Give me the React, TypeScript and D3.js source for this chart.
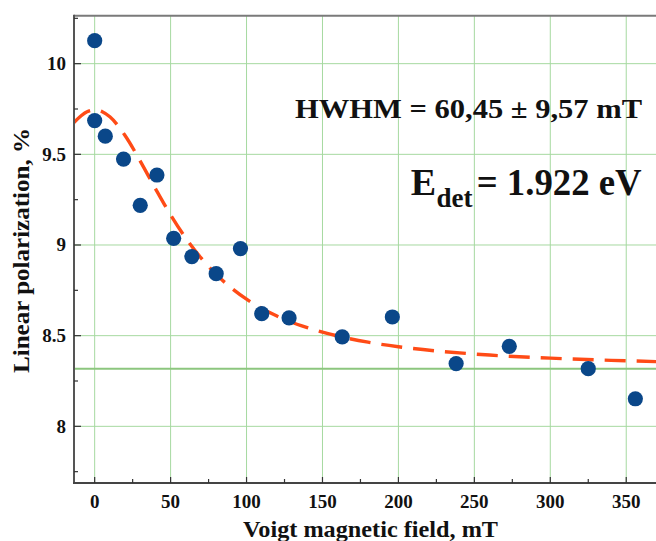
import React from "react";
import * as d3 from "d3";

// Measured data points (Voigt field, mT ; linear polarization, %)
const fieldValues = [0, 0, 7, 19, 30, 41, 52, 64, 80, 96, 110, 128, 163, 196, 238, 273, 325, 356];
const polarizationValues = [10.127, 9.686, 9.6, 9.474, 9.219, 9.386, 9.037, 8.936, 8.842, 8.98, 8.621, 8.598, 8.493, 8.603, 8.346, 8.441, 8.318, 8.152];

// Fit curve
const fitX = [-14, -5, 0, 5, 10, 20, 30, 40, 50, 60, 70, 80, 90, 100, 120, 140, 160, 180, 200, 230, 260, 300, 340, 370];
const fitY = [9.673, 9.735, 9.745, 9.735, 9.707, 9.604, 9.463, 9.311, 9.166, 9.038, 8.929, 8.838, 8.763, 8.701, 8.608, 8.544, 8.498, 8.464, 8.439, 8.412, 8.393, 8.376, 8.364, 8.357];

const asymptote = 8.318;

const xTicks = [0, 50, 100, 150, 200, 250, 300, 350];
const xMinorTicks = [25, 75, 125, 175, 225, 275, 325];
const yTicks = [8, 8.5, 9, 9.5, 10];
const yTickLabels = ["8", "8.5", "9", "9.5", "10"];
const yMinorTicks = [7.75, 8.25, 8.75, 9.25, 9.75, 10.25];

const xTitle = "Voigt magnetic field, mT";
const yTitle = "Linear polarization, %";
const hwhmText = "HWHM = 60,45 ± 9,57 mT";

const W = 656;
const H = 541;
const left = 74;
const right = 656;
const top = 15.7;
const bottom = 483;

const font = "'Liberation Serif', 'Times New Roman', serif";

export default function App() {
  const x = d3.scaleLinear().domain([-13.61, 369.6]).range([left, right]);
  const y = d3.scaleLinear().domain([7.6875, 10.2645]).range([bottom, top]);

  const line = d3
    .line<number>()
    .x((_, i) => x(fitX[i]))
    .y((d) => y(d))
    .curve(d3.curveMonotoneX);

  const gridColor = "#a6d9a0";

  return (
    <svg
      width={W}
      height={H}
      style={{ position: "absolute", left: 0, top: 0, background: "#fff" }}
      fontFamily={font}
    >
      <defs>
        <clipPath id="plot">
          <rect x={left} y={top} width={right - left} height={bottom - top} />
        </clipPath>
      </defs>

      {/* grid */}
      {xTicks.map((t) => (
        <line key={"gx" + t} x1={x(t)} x2={x(t)} y1={top} y2={bottom} stroke={gridColor} strokeWidth={1} />
      ))}
      {yTicks.map((t) => (
        <line key={"gy" + t} x1={left} x2={right} y1={y(t)} y2={y(t)} stroke={gridColor} strokeWidth={1} />
      ))}
      <line x1={left} x2={right} y1={y(asymptote)} y2={y(asymptote)} stroke="#8cc67e" strokeWidth={2} />

      {/* fit curve */}
      <path
        d={line(fitY) || ""}
        fill="none"
        stroke="#ff4b16"
        strokeWidth={3.4}
        strokeDasharray="21 11"
        clipPath="url(#plot)"
      />

      {/* points */}
      {fieldValues.map((fx, i) => (
        <circle key={"p" + i} cx={x(fx)} cy={y(polarizationValues[i])} r={7.6} fill="#0a4789" />
      ))}

      {/* axes frame */}
      <line x1={left} x2={right} y1={top} y2={top} stroke="#7a7a7a" strokeWidth={2} />
      <line x1={left} x2={left} y1={top - 1} y2={bottom + 1} stroke="#555" strokeWidth={2} />
      <line x1={left - 1} x2={right} y1={bottom} y2={bottom} stroke="#444" strokeWidth={2} />

      {/* ticks */}
      {yTicks.map((t) => (
        <line key={"ty" + t} x1={left} x2={left + 7} y1={y(t)} y2={y(t)} stroke="#333" strokeWidth={1.2} />
      ))}
      {yMinorTicks.map((t) => (
        <line key={"tym" + t} x1={left} x2={left + 4} y1={y(t)} y2={y(t)} stroke="#333" strokeWidth={1.2} />
      ))}
      {xTicks.map((t) => (
        <line key={"tx" + t} x1={x(t)} x2={x(t)} y1={bottom} y2={bottom - 6} stroke="#333" strokeWidth={1.2} />
      ))}
      {xMinorTicks.map((t) => (
        <line key={"txm" + t} x1={x(t)} x2={x(t)} y1={bottom} y2={bottom - 4} stroke="#333" strokeWidth={1.2} />
      ))}

      {/* tick labels */}
      {yTicks.map((t, i) => (
        <text key={"ly" + t} x={66} y={y(t) + 6.5} textAnchor="end" fontSize={19} fontWeight="bold" fill="#111">
          {yTickLabels[i]}
        </text>
      ))}
      {xTicks.map((t) => (
        <text key={"lx" + t} x={x(t)} y={507.5} textAnchor="middle" fontSize={19} fontWeight="bold" fill="#111">
          {t}
        </text>
      ))}

      {/* axis titles */}
      <text x={370.5} y={536.5} textAnchor="middle" fontSize={24} fontWeight="bold" fill="#111" textLength={255} lengthAdjust="spacingAndGlyphs">
        {xTitle}
      </text>
      <text
        transform={`translate(29, 250.5) rotate(-90)`}
        textAnchor="middle"
        fontSize={24}
        fontWeight="bold"
        fill="#111"
        textLength={245}
        lengthAdjust="spacingAndGlyphs"
      >
        {yTitle}
      </text>

      {/* annotations */}
      <text x={295} y={118.3} fontSize={28} fontWeight="bold" fill="#111" textLength={347} lengthAdjust="spacingAndGlyphs">
        {hwhmText}
      </text>
      <text x={410.7} y={195} fontSize={38} fontWeight="bold" fill="#111">
        E
      </text>
      <text x={436.5} y={206.7} fontSize={27} fontWeight="bold" fill="#111">
        det
      </text>
      <text x={476.7} y={195} fontSize={38} fontWeight="bold" fill="#111" textLength={165} lengthAdjust="spacingAndGlyphs">
        = 1.922 eV
      </text>
    </svg>
  );
}
